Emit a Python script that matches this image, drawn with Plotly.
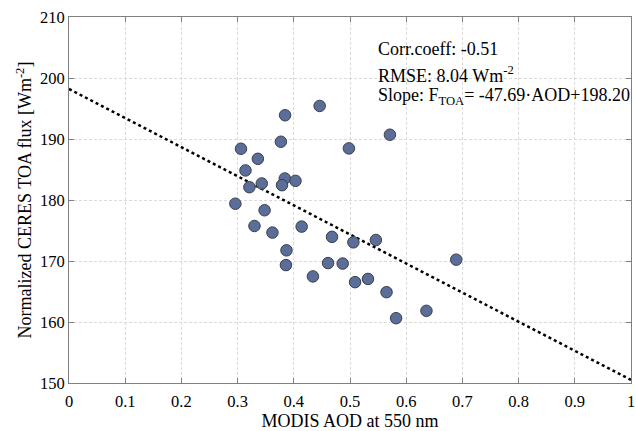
import plotly.graph_objects as go

aod = [0.446, 0.3845, 0.571, 0.377, 0.306, 0.498, 0.336, 0.314, 0.384, 0.403,
       0.343, 0.379, 0.321, 0.296, 0.348, 0.330, 0.362, 0.414, 0.387, 0.468,
       0.506, 0.546, 0.386, 0.461, 0.487, 0.689, 0.434, 0.509, 0.532, 0.565,
       0.582, 0.636]
flux = [195.42, 193.89, 190.70, 189.55, 188.40, 188.46, 186.75, 184.85, 183.53, 183.14,
        182.71, 182.43, 182.10, 179.39, 178.32, 175.74, 174.66, 175.64, 171.75, 173.96,
        173.06, 173.44, 169.33, 169.66, 169.58, 170.22, 167.47, 166.53, 167.06, 164.89,
        160.62, 161.83]
slope = -47.69
intercept = 198.20
fit_x = [0, 1]
fit_y = [intercept + slope * v for v in fit_x]

x_ticks = [0, 0.1, 0.2, 0.3, 0.4, 0.5, 0.6, 0.7, 0.8, 0.9, 1]
x_ticklabels = ["0", "0.1", "0.2", "0.3", "0.4", "0.5", "0.6", "0.7", "0.8", "0.9", "1"]
y_ticks = [150, 160, 170, 180, 190, 200, 210]

font = "Liberation Serif, Times New Roman, serif"

fig = go.Figure()
fig.add_trace(go.Scatter(x=fit_x, y=fit_y, mode="lines",
                         line=dict(color="black", width=2.5, dash="dot"),
                         showlegend=False, hoverinfo="skip"))
fig.add_trace(go.Scatter(x=aod, y=flux, mode="markers",
                         marker=dict(size=11.5, color="#5a6e99",
                                     line=dict(color="#3a3f4a", width=1)),
                         showlegend=False))

axis_common = dict(showline=True, linecolor="#808080", linewidth=1, mirror="ticks",
                   ticks="inside", ticklen=5, tickcolor="#808080",
                   showgrid=True, gridcolor="#dadada", griddash="3px,2px", gridwidth=1,
                   zeroline=False, tickfont=dict(family=font, size=16.5, color="black"))

fig.update_xaxes(range=[0, 1], tickvals=x_ticks, ticktext=x_ticklabels,
                 ticklabelstandoff=3,
                 title=dict(text="MODIS AOD at 550 nm", standoff=8,
                            font=dict(family=font, size=18, color="black")),
                 **axis_common)
fig.update_yaxes(range=[150, 210], tickvals=y_ticks,
                 title=dict(text="Normalized CERES TOA flux [Wm<sup>-2</sup>]", standoff=3,
                            font=dict(family=font, size=18, color="black")),
                 **axis_common)

ann_font = dict(family=font, size=18, color="black")
x0 = (375 - 69) / 561
fig.add_annotation(x=x0, y=0.912, xref="paper", yref="paper", xanchor="left", yanchor="middle",
                   text="Corr.coeff: -0.51", showarrow=False, font=ann_font)
fig.add_annotation(x=x0, y=0.844, xref="paper", yref="paper", xanchor="left", yanchor="middle",
                   text="RMSE: 8.04 Wm<sup>-2</sup>", showarrow=False, font=ann_font)
fig.add_annotation(x=x0, y=0.782, xref="paper", yref="paper", xanchor="left", yanchor="middle",
                   text="Slope: F<sub>TOA</sub>= -47.69·AOD+198.20", showarrow=False, font=ann_font)

fig.update_layout(width=636, height=431, margin=dict(l=69, r=5, t=17, b=48, autoexpand=False),
                  plot_bgcolor="white", paper_bgcolor="white",
                  font=dict(family=font, size=16, color="black"))
fig.write_html("out.html")
